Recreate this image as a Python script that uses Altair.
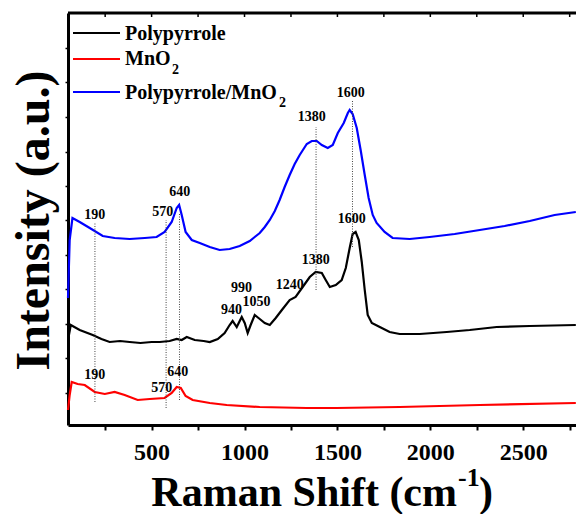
import altair as alt
import pandas as pd

FONT = "Liberation Serif"

# ---------------- data ----------------
series_names = ["Polypyrrole", "MnO2", "Polypyrrole/MnO2"]
series_colors = ["#000000", "#ff0000", "#0000ff"]

ppy_x = [50, 65, 113, 183, 230, 274, 330, 382, 440, 500, 544, 597, 635, 662, 689, 732, 780,
         813, 856, 893, 920, 936, 958, 985, 1001, 1017, 1033, 1055, 1082, 1109, 1136, 1168,
         1201, 1243, 1275, 1313, 1351, 1383, 1416, 1437, 1459, 1491, 1523, 1545, 1566, 1582,
         1598, 1615, 1631, 1647, 1663, 1685, 1728, 1781, 1835, 1943, 2088, 2212, 2357, 2535,
         2783]
ppy_y = [84, 99, 94, 89, 85, 82, 83, 82, 81, 82, 82, 83, 85, 84, 87, 84, 83,
         82, 85, 91, 99, 103, 97, 107, 101, 91, 99, 109, 105, 101, 99, 106,
         114, 124, 127, 137, 147, 152, 151, 144, 137, 139, 144, 156, 176, 190,
         192, 184, 162, 134, 109, 101, 97, 92, 90, 90, 92, 94, 97, 98,
         99]

mno2_x = [50, 59, 70, 102, 140, 194, 248, 301, 355, 425, 490, 570, 608, 635, 657, 683,
          721, 813, 904, 1082, 1335, 1496, 1835, 2266, 2783]
mno2_y = [14, 29, 42, 40, 39, 32, 30, 32, 29, 24, 25, 26, 31, 37, 36, 28,
          24, 21, 19, 17, 16, 16, 17, 19, 21]

comp_x = [50, 59, 74, 113, 167, 237, 301, 382, 463, 527, 570, 608, 635, 648, 662, 683,
          716, 759, 813, 866, 920, 974, 1028, 1055, 1082, 1109, 1136, 1163, 1189, 1216,
          1243, 1270, 1297, 1335, 1362, 1389, 1416, 1448, 1475, 1502, 1534, 1556, 1566,
          1582, 1604, 1625, 1647, 1668, 1690, 1711, 1754, 1797, 1889, 1996, 2131, 2266,
          2400, 2535, 2669, 2783]
comp_y = [126, 184, 206, 202, 196, 188, 186, 185, 186, 187, 192, 202, 216, 219, 209, 192,
          184, 181, 177, 174, 175, 178, 183, 187, 191, 197, 204, 213, 224, 237,
          249, 260, 269, 280, 283, 283, 279, 276, 279, 291, 301, 311, 314,
          310, 296, 274, 249, 226, 209, 201, 192, 186, 185, 187, 190, 194,
          198, 203, 209, 212]

# dotted guide lines
guide_x = [195, 578, 650, 1385, 1581]
guide_y1 = [22, 16, 24, 134, 177]
guide_y2 = [201, 204, 211, 297, 324]

# peak annotations
peak_text = ["190", "570", "640", "1380", "1600",
             "940", "990", "1050", "1240", "1380", "1600",
             "190", "570", "640"]
peak_x = [194, 560, 651, 1362, 1572,
          930, 984, 1065, 1243, 1383, 1577,
          194, 555, 640]
peak_y = [209, 212, 232, 307, 331,
          114, 136, 122, 139, 164, 205,
          49, 36, 52]

x_ticks = [250, 500, 750, 1000, 1250, 1500, 1750, 2000, 2250, 2500, 2750]
y_ticks = [31, 66, 100, 135, 169, 204, 238, 272, 307, 342, 376]

# ---------------- build ----------------
rows = []
for name, xs, ys in [("Polypyrrole", ppy_x, ppy_y),
                     ("MnO2", mno2_x, mno2_y),
                     ("Polypyrrole/MnO2", comp_x, comp_y)]:
    for a, b in zip(xs, ys):
        rows.append({"series": name, "x": a, "y": b})
df = pd.DataFrame(rows)

W, H = 508, 412
xscale = alt.Scale(domain=[50, 2784], nice=False, zero=False)
yscale = alt.Scale(domain=[-1, 411], nice=False, zero=False)

xaxis = alt.Axis(values=x_ticks, format="d",
                 labelExpr="datum.value % 500 == 0 ? datum.label : ''",
                 title=None, grid=False, domainColor="black", domainWidth=3,
                 tickColor="black", tickWidth=2, tickSize=5, labelPadding=10,
                 labelFont=FONT, labelFontWeight="bold", labelFontSize=24,
                 labelColor="black", labelFlush=False, labelOverlap=False)
yaxis = alt.Axis(values=y_ticks, labels=False, grid=False, domainColor="black",
                 domainWidth=3, tickColor="black", tickWidth=1.5, tickSize=3,
                 title="Intensity (a.u.)", titleFont=FONT, titleFontWeight="bold",
                 titleFontSize=48, titleColor="black", titleAngle=270,
                 titleX=-34, titleY=207, titleBaseline="middle", titleAlign="center")

xenc = alt.X("x:Q", scale=xscale, axis=xaxis)
yenc = alt.Y("y:Q", scale=yscale, axis=yaxis)

lines = alt.Chart(df).mark_line(strokeWidth=2.2).encode(
    x=xenc, y=yenc,
    color=alt.Color("series:N", scale=alt.Scale(domain=series_names, range=series_colors),
                    legend=None),
    detail="series:N",
)

guides_df = pd.DataFrame({"x": guide_x, "y": guide_y1, "y2": guide_y2})
guides = alt.Chart(guides_df).mark_rule(color="#444444", strokeWidth=1,
                                        strokeDash=[1, 1.5]).encode(
    x=xenc, y=yenc, y2="y2:Q")

peaks_df = pd.DataFrame({"x": peak_x, "y": peak_y, "t": peak_text})
peaks = alt.Chart(peaks_df).mark_text(font=FONT, fontWeight="bold", fontSize=14,
                                      color="black", baseline="middle",
                                      align="center").encode(
    x=xenc, y=yenc, text="t:N")

one = pd.DataFrame({"k": [0]})
top_frame = alt.Chart(one).mark_rule(color="black", strokeWidth=3).encode(
    x=alt.value(0), x2=alt.value(W), y=alt.value(0))
top_ticks = alt.Chart(pd.DataFrame({"x": x_ticks})).mark_rule(
    color="black", strokeWidth=1.5).encode(x=xenc, y=alt.value(0), y2=alt.value(4))

# legend
leg = []
leg_rows = [(series_names[0], series_colors[0], 20, 27),
            (series_names[1], series_colors[1], 46, 52),
            (series_names[2], series_colors[2], 79, 86)]
leg_texts = ["Polypyrrole", "MnO", "Polypyrrole/MnO"]
for (name, col, ly, tb), txt in zip(leg_rows, leg_texts):
    leg.append(alt.Chart(one).mark_rule(color=col, strokeWidth=2).encode(
        x=alt.value(5), x2=alt.value(52), y=alt.value(ly)))
    leg.append(alt.Chart(one).mark_text(font=FONT, fontWeight="bold", fontSize=20,
                                        color="black", align="left",
                                        baseline="alphabetic").encode(
        x=alt.value(57), y=alt.value(tb), text=alt.value(txt)))
leg.append(alt.Chart(one).mark_text(font=FONT, fontWeight="bold", fontSize=14,
                                    color="black", align="left",
                                    baseline="alphabetic").encode(
    x=alt.value(104), y=alt.value(61), text=alt.value("2")))
leg.append(alt.Chart(one).mark_text(font=FONT, fontWeight="bold", fontSize=14,
                                    color="black", align="left",
                                    baseline="alphabetic").encode(
    x=alt.value(211), y=alt.value(94), text=alt.value("2")))

# x-axis title with superscript
xt1 = alt.Chart(one).mark_text(font=FONT, fontWeight="bold", fontSize=42, color="black",
                               align="right", baseline="alphabetic").encode(
    x=alt.value(389), y=alt.value(493), text=alt.value("Raman Shift (cm"))
xt2 = alt.Chart(one).mark_text(font=FONT, fontWeight="bold", fontSize=26, color="black",
                               align="left", baseline="alphabetic").encode(
    x=alt.value(390), y=alt.value(473), text=alt.value("-1"))
xt3 = alt.Chart(one).mark_text(font=FONT, fontWeight="bold", fontSize=42, color="black",
                               align="left", baseline="alphabetic").encode(
    x=alt.value(411), y=alt.value(493), text=alt.value(")"))

chart = alt.layer(lines, guides, peaks, top_frame, top_ticks, *leg, xt1, xt2, xt3).properties(
    width=W, height=H,
    autosize=alt.AutoSizeParams(type="none"),
    padding={"left": 68, "top": 13, "right": 0, "bottom": 89},
    background="white",
).configure_view(stroke=None)

chart.save("out.html", embed_options={"renderer": "svg", "actions": False})
